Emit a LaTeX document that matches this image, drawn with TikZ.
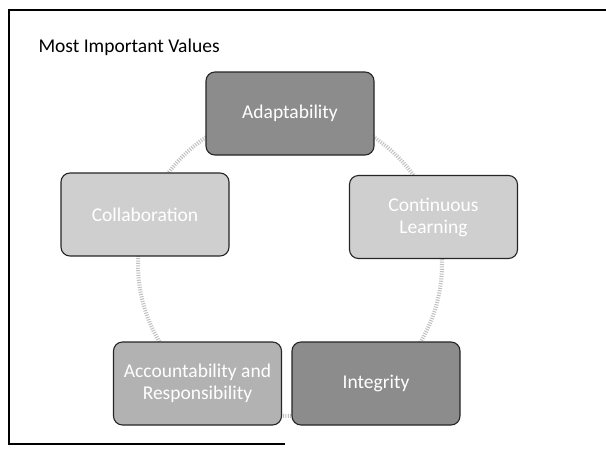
\documentclass[tikz,border=0pt]{standalone}
\usepackage{fontspec}
\setmainfont{Carlito}
\begin{document}
\begin{tikzpicture}[x=1pt,y=-1pt,
  valbox/.style={draw=black!85,line width=1.1pt,rounded corners=9pt,minimum width=168pt,minimum height=83pt,
    inner sep=2pt,align=center,text=white,font=\fontsize{19.5}{22}\selectfont},
  darkbox/.style={valbox,fill=black!45},
  midbox/.style={valbox,fill=black!30},
  lightbox/.style={valbox,fill=black!19},
  ring/.style={draw=black!25,line width=4pt,dash pattern=on 1pt off 1.4pt},
  frame/.style={draw=black,line width=1.3pt}]
\useasboundingbox (0,0) rectangle (606,451);
\fill[white] (0,0) rectangle (606,451);
\coordinate (ctr) at (290,264);
\draw[ring] (ctr) circle (152);
\draw[frame] (606,10) -- (9,10) -- (9,444) -- (285,444);
\node[anchor=base west,font=\fontsize{19.5}{22}\selectfont] (title) at (35,52) {Most Important Values};
\node[darkbox] (adapt) at (290,113.5) {Adaptability};
\node[lightbox] (collab) at (145,214.5) {Collaboration};
\node[lightbox] (learn) at (433.5,217) {Continuous\\Learning};
\node[midbox] (acc) at (197.5,383.5) {Accountability and\\Responsibility};
\node[darkbox] (integ) at (376,383.5) {Integrity};
\end{tikzpicture}
\end{document}
